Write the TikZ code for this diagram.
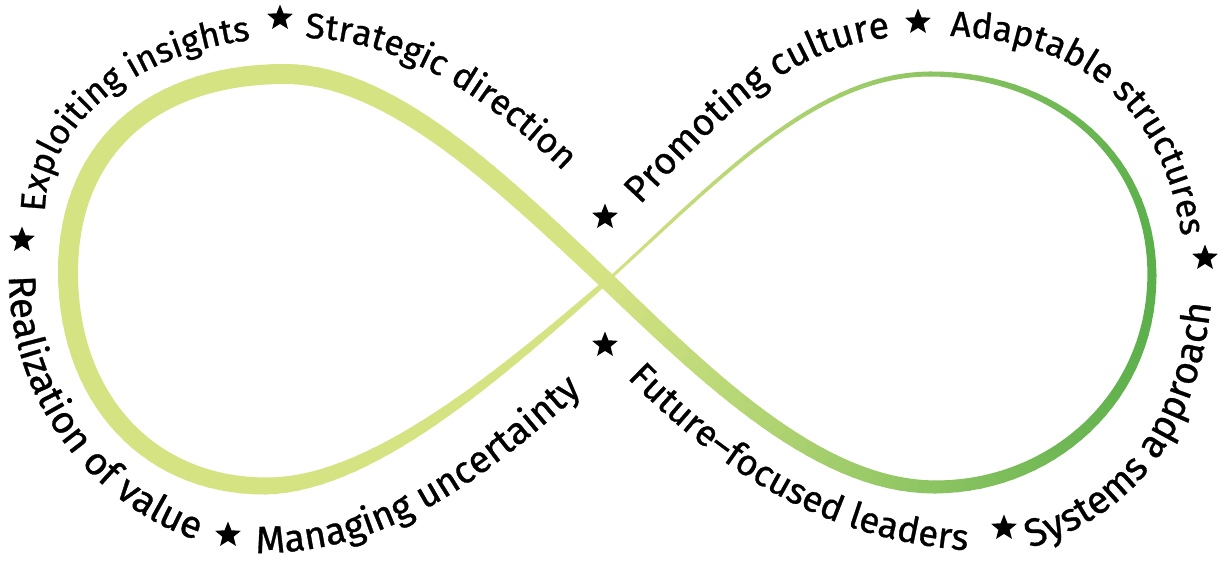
\documentclass[tikz,border=0pt]{standalone}
\usepackage{fontspec}
\setmainfont{Fira Sans}[FakeBold=0.8]
\usetikzlibrary{decorations.text,shapes.geometric}
\definecolor{rlight}{RGB}{214,227,131}
\definecolor{rdark}{RGB}{92,176,76}
\newcommand\tfa{\fontsize{35}{40}\selectfont}
\newcommand\tfb{\fontsize{35.5}{40}\selectfont}
\newcommand\tfc{\fontsize{37.5}{40}\selectfont}
\newcommand\tfd{\fontsize{35.5}{40}\selectfont}
\newcommand\tfe{\fontsize{38.5}{40}\selectfont}
\newcommand\tff{\fontsize{38}{40}\selectfont}
\newcommand\tfg{\fontsize{36.5}{40}\selectfont}
\newcommand\tfh{\fontsize{39}{40}\selectfont}
\newcommand\rseg[8]{%
 \foreach \i in {1,...,30}{%
  \pgfmathsetmacro\rta{(\i-1)/30}%
  \pgfmathsetmacro\rtb{\i/30}%
  \pgfmathsetmacro\rxa{(1-\rta)^3*#1+3*(1-\rta)^2*\rta*#3+3*(1-\rta)*\rta^2*#5+\rta^3*#7}%
  \pgfmathsetmacro\rya{(1-\rta)^3*#2+3*(1-\rta)^2*\rta*#4+3*(1-\rta)*\rta^2*#6+\rta^3*#8}%
  \pgfmathsetmacro\rxb{(1-\rtb)^3*#1+3*(1-\rtb)^2*\rtb*#3+3*(1-\rtb)*\rtb^2*#5+\rtb^3*#7}%
  \pgfmathsetmacro\ryb{(1-\rtb)^3*#2+3*(1-\rtb)^2*\rtb*#4+3*(1-\rtb)*\rtb^2*#6+\rtb^3*#8}%
  \pgfmathsetmacro\rlw{\wA+(\wB-\wA)*(\rta+\rtb)/2}%
  \pgfmathsetmacro\rpc{max(0,min(100,(\rxa-600)/5.5))}%
  \draw[ribbon,line width=\rlw pt,color=rdark!\rpc!rlight] (\rxa,\rya) -- (\rxb,\ryb);
 }}
\tikzset{
  ribbon/.style={line cap=round},
  starmark/.style={star,star points=5,star point ratio=2.3,fill=black,draw=none,inner sep=0pt,minimum size=27pt},
  alongtext/.style={decorate,decoration={text along path,text align=left,text={#1}}}
}
\begin{document}
\begin{tikzpicture}[x=1pt,y=-1pt]
\useasboundingbox (0,0) rectangle (1223,562);
% ribbon (infinity loop)
\def\wA{20}\def\wB{20}\rseg{285}{74}{150}{74}{68}{150}{68}{272}
\def\wA{20}\def\wB{17}\rseg{68}{272}{68}{400}{150}{486}{265}{486}
\def\wA{17}\def\wB{5}\rseg{265}{486}{370}{486}{500}{375}{607}{281}
\def\wA{3}\def\wB{5}\rseg{607}{281}{715}{183}{815}{74}{930}{74}
\def\wA{5}\def\wB{9}\rseg{930}{74}{1060}{74}{1152}{160}{1152}{275}
\def\wA{9}\def\wB{13}\rseg{1152}{275}{1152}{400}{1050}{487}{935}{487}
\def\wA{13}\def\wB{17}\rseg{935}{487}{820}{487}{710}{380}{607}{281}
\def\wA{17}\def\wB{20}\rseg{607}{281}{500}{180}{390}{74}{285}{74}
% text
\path[alongtext={|\tfa|Exploiting insights}] (45,212) .. controls (45,120) and (150,38) .. (290,38);
\path[alongtext={|\tfb|Strategic direction}] (305,38) .. controls (420,40) and (520,120) .. (620,230);
\path[alongtext={|\tfc|Promoting culture}] (640,205) .. controls (720,120) and (790,40) .. (910,36);
\path[alongtext={|\tfd|Adaptable structures}] (950,36) .. controls (1100,40) and (1185,130) .. (1185,290);
\path[alongtext={|\tfe|Realization of value}] (9,276) .. controls (9,400) and (92,518) .. (230,550);
\path[alongtext={|\tff|Managing uncertainty}] (256,553) .. controls (400,554) and (500,468) .. (630,348);
\path[alongtext={|\tfg|Future–focused leaders}] (627,378) .. controls (720,470) and (830,552) .. (1010,552);
\path[alongtext={|\tfh|Systems approach}] (1030,548) .. controls (1146,510) and (1215,420) .. (1215,230);
% stars
\node[starmark] (s1) at (280,18) {};
\node[starmark] (s2) at (22,240) {};
\node[starmark] (s3) at (605,217) {};
\node[starmark] (s4) at (605,345) {};
\node[starmark] (s5) at (228,535) {};
\node[starmark] (s6) at (918,22) {};
\node[starmark] (s7) at (1205,258) {};
\node[starmark] (s8) at (1004,528) {};
\end{tikzpicture}
\end{document}
